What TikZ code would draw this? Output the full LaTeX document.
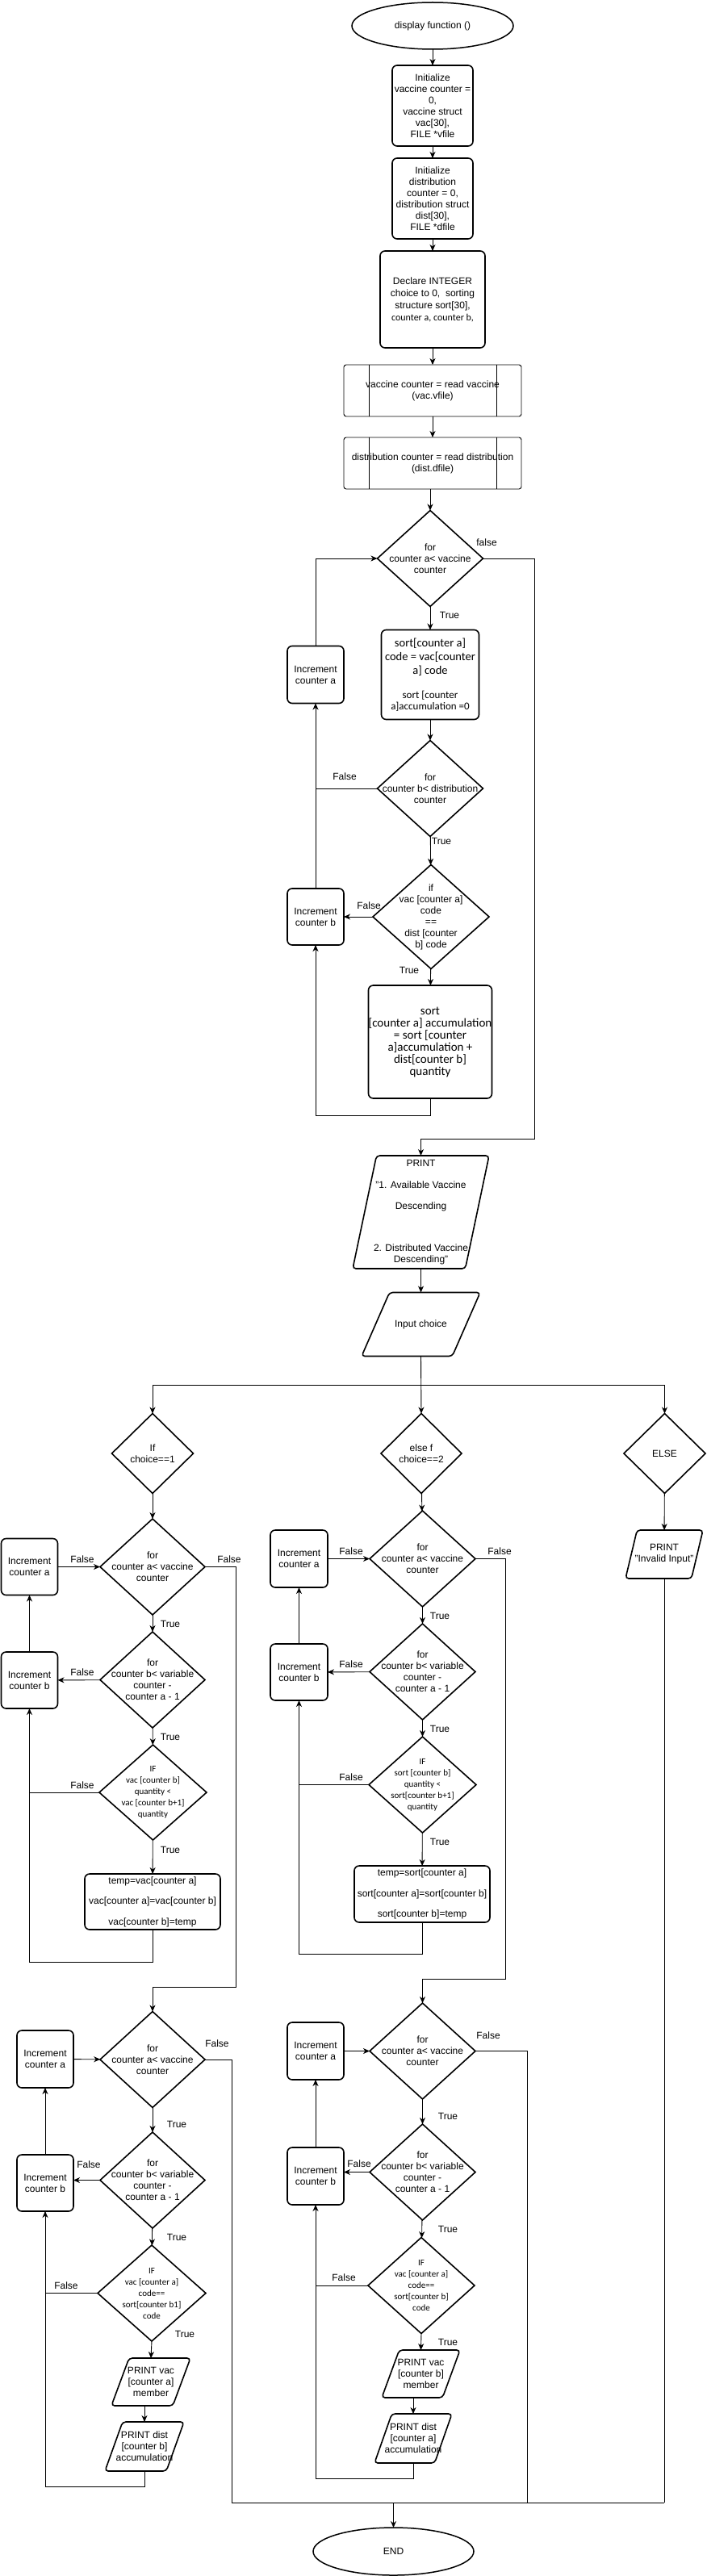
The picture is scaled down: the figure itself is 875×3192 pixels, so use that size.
\documentclass[tikz,border=0pt]{standalone}
\usepackage{fontspec}
\setmainfont{Liberation Sans}
\newfontfamily\calfont{Carlito}
\usepackage{tikz}
\usetikzlibrary{positioning,calc,shapes.geometric,arrows.meta}

\newcommand{\celltxt}[1]{\smash{\makebox[0pt]{\raisebox{-3pt}{\parbox{300pt}{\centering #1}}}}}

\begin{document}
\begin{tikzpicture}[x=1pt, y=-1pt,
 every node/.style={inner sep=0pt, outer sep=0pt, font=\fontsize{12}{14}\selectfont},
 wh/.style 2 args={minimum width=#1pt, minimum height=#2pt},
 term/.style={draw, ellipse, line width=1.5pt},
 box/.style={draw, rounded corners=6pt, line width=1.6pt},
 proc/.style={draw, rounded corners=3pt, line width=0.9pt},
 dec/.style={draw, diamond, aspect=1, line width=1.6pt},
 io/.style 2 args={draw, trapezium, inner sep=2pt, trapezium stretches=true, trapezium left angle=#1, trapezium right angle=#2, rounded corners=4pt, line width=1.6pt},
 cal/.style={font=\calfont\fontsize{11}{14}\selectfont},
 line/.style={line width=0.9pt},
 arr/.style={line width=0.9pt, -{Stealth[length=8pt,width=7pt,inset=2.5pt]}}
]
\useasboundingbox (0,0) rectangle (875,3192);

% main column
\node[term, wh={200}{58}] (start) at (536,32) {\celltxt{display function ()}};
\node[box, wh={100}{100}] (iniv) at (536,131) {\celltxt{Initialize\\ vaccine counter =\\ 0,\\ vaccine struct\\ vac[30],\\ FILE *vfile}};
\node[box, wh={100}{100}] (inid) at (536,246) {\celltxt{Initialize\\ distribution\\ counter = 0,\\ distribution struct\\ dist[30],\\ FILE *dfile}};
\node[box, wh={130}{120}] (decl) at (536,371) {\celltxt{\fontsize{12}{15}\selectfont Declare INTEGER\\ choice to 0,\ \ sorting\\ structure sort[30],\\ {\calfont counter a, counter b,}}};
\node[proc, wh={220}{64}] (readv) at (536,484) {\celltxt{vaccine counter = read vaccine\\ (vac.vfile)}};
\node[proc, wh={220}{64}] (readd) at (536,574) {\celltxt{distribution counter = read distribution\\ (dist.dfile)}};
\draw[line] ([xshift=31pt]readv.north west) -- ([xshift=31pt]readv.south west);
\draw[line] ([xshift=-31pt]readv.north east) -- ([xshift=-31pt]readv.south east);
\draw[line] ([xshift=31pt]readd.north west) -- ([xshift=31pt]readd.south west);
\draw[line] ([xshift=-31pt]readd.north east) -- ([xshift=-31pt]readd.south east);

\node[dec, wh={131}{119}] (fora) at (533,692) {\celltxt{for\\ counter a< vaccine\\ counter}};
\node[box, wh={121}{111}] (sorta) at (533,836) {\celltxt{\calfont\fontsize{14.5}{16.7}\selectfont sort[counter a]\\ code = vac[counter\\ a] code\endgraf\vspace{16pt}\fontsize{13}{14}\selectfont sort [counter\\ a]accumulation =0}};
\node[box, wh={70}{71}] (inca) at (391,836) {\celltxt{Increment\\ counter a}};
\node[dec, wh={131}{119}] (forb) at (533,977) {\celltxt{for\\ counter b< distribution\\ counter}};
\node[dec, wh={144}{129}] (ifc) at (534,1136) {\celltxt{if\\ vac [counter a]\\ code\\ ==\\ dist [counter\\ b] code}};
\node[box, wh={70}{70}] (incb) at (391,1136) {\celltxt{Increment\\ counter b}};
\node[box, wh={153}{140}] (accu) at (533,1291) {\celltxt{\calfont\fontsize{15}{15}\selectfont sort\\ {[counter a] accumulation}\\ = sort [counter\\ a]accumulation +\\ dist[counter b]\\ quantity}};

\node[io={75}{105}, wh={169}{140}] (prt) at (521.5,1502) {\celltxt{PRINT\\[13pt] "1. Available Vaccine\\[12pt] Descending\\[38pt] 2. Distributed Vaccine\\ Descending"}};
\node[io={66}{114}, wh={147}{79}] (inp) at (521.5,1641) {\celltxt{Input choice}};

\node[dec, wh={101}{99}] (c1) at (189,1801) {\celltxt{If\\ choice==1}};
\node[dec, wh={100}{99}] (c2) at (522,1801) {\celltxt{else f\\ choice==2}};
\node[dec, wh={101}{99}] (c3) at (823.5,1801) {\celltxt{ELSE}};
\node[io={78}{102}, wh={96}{60}] (inv) at (823,1926) {\celltxt{PRINT\\ "Invalid Input"}};

% choice 1, sorting
\node[dec, wh={130}{119}] (la1) at (189,1941.5) {\celltxt{for\\ counter a< vaccine\\ counter}};
\node[box, wh={70}{70}] (lia1) at (36.5,1941.5) {\celltxt{Increment\\ counter a}};
\node[dec, wh={130}{119}] (lb1) at (189,2081.5) {\celltxt{for\\ counter b< variable\\ counter -\\ counter a - 1}};
\node[box, wh={70}{70}] (lib1) at (36.5,2082) {\celltxt{Increment\\ counter b}};
\node[dec, cal, wh={133}{118}] (lif1) at (189.5,2221) {\celltxt{IF\\ vac [counter b]\\ quantity <\\ vac [counter b+1]\\ quantity}};
\node[box, wh={168}{69}] (lsw1) at (189,2356.5) {\celltxt{\fontsize{12}{13}\selectfont temp=vac[counter a]\\[12.5pt] vac[counter a]=vac[counter b]\\[12.5pt] vac[counter b]=temp}};

% choice 1, printing
\node[dec, wh={130}{119}] (la2) at (189,2552) {\celltxt{for\\ counter a< vaccine\\ counter}};
\node[box, wh={70}{71}] (lia2) at (56,2551.5) {\celltxt{Increment\\ counter a}};
\node[dec, wh={130}{119}] (lb2) at (189,2701.5) {\celltxt{for\\ counter b< variable\\ counter -\\ counter a - 1}};
\node[box, wh={70}{70}] (lib2) at (56,2705) {\celltxt{Increment\\ counter b}};
\node[dec, cal, wh={134}{119}] (lif2) at (188,2841.5) {\celltxt{IF\\ vac [counter a]\\ code==\\ sort[counter b1]\\ code}};
\node[io={68}{112}, wh={98}{59}] (lpv) at (187,2951.5) {\celltxt{PRINT vac\\ {[counter a]}\\ member}};
\node[io={68}{112}, wh={98}{61}] (lpd) at (179,3031.5) {\celltxt{PRINT dist\\ {[counter b]}\\ accumulation}};

% choice 2, sorting
\node[dec, wh={131}{119}] (ma1) at (523.5,1931.5) {\celltxt{for\\ counter a< vaccine\\ counter}};
\node[box, wh={71}{71}] (mia1) at (370.5,1931.5) {\celltxt{Increment\\ counter a}};
\node[dec, wh={131}{119}] (mb1) at (523.5,2071.5) {\celltxt{for\\ counter b< variable\\ counter -\\ counter a - 1}};
\node[box, wh={71}{70}] (mib1) at (370.5,2072) {\celltxt{Increment\\ counter b}};
\node[dec, cal, wh={133}{119}] (mif1) at (523.5,2211.5) {\celltxt{IF\\ sort [counter b]\\ quantity <\\ sort[counter b+1]\\ quantity}};
\node[box, wh={168}{70}] (msw1) at (523,2347) {\celltxt{\fontsize{12}{13}\selectfont temp=sort[counter a]\\[12.5pt] sort[counter a]=sort[counter b]\\[12.5pt] sort[counter b]=temp}};

% choice 2, printing
\node[dec, wh={131}{119}] (ma2) at (523.5,2541.5) {\celltxt{for\\ counter a< vaccine\\ counter}};
\node[box, wh={70}{71}] (mia2) at (391,2541.5) {\celltxt{Increment\\ counter a}};
\node[dec, wh={131}{119}] (mb2) at (523.5,2691.5) {\celltxt{for\\ counter b< variable\\ counter -\\ counter a - 1}};
\node[box, wh={70}{71}] (mib2) at (391,2696.5) {\celltxt{Increment\\ counter b}};
\node[dec, cal, wh={132}{119}] (mif2) at (522,2832) {\celltxt{IF\\ vac [counter a]\\ code==\\ sort[counter b]\\ code}};
\node[io={68}{112}, wh={97}{59}] (mpv) at (521.5,2941.5) {\celltxt{PRINT vac\\ {[counter b]}\\ member}};
\node[io={68}{112}, wh={96}{61}] (mpd) at (512,3021.5) {\celltxt{PRINT dist\\ {[counter a]}\\ accumulation}};

\node[term, wh={199}{59}] (end) at (487.5,3161.5) {\celltxt{END}};

% corner points
\coordinate (topf) at (662,1411);
\coordinate (bus) at (522,1716);
\coordinate (l1f) at (292,2462);
\coordinate (m1f) at (626,2452);
\coordinate (botl) at (287,3101);
\coordinate (botm) at (653,3101);
\coordinate (botr) at (823,3101);
\coordinate (bote) at (487.5,3101);

% connectors, main column
\draw[arr] (start) -- (iniv);
\draw[arr] (iniv) -- (inid);
\draw[arr] (inid) -- (decl);
\draw[arr] (decl) -- (readv);
\draw[arr] (readv) -- (readd);
\draw[arr] (fora.north |- readd.south) -- (fora.north);
\draw[arr] (fora) -- (sorta);
\draw[arr] (sorta) -- (forb);
\draw[arr] (forb) -- (ifc);
\draw[arr] (ifc) -- (accu);
\draw[arr] (ifc) -- (incb);
\draw[arr] (accu.south) -- ++(0,21) -| (incb.south);
\draw[arr] (incb) -- (inca);
\draw[line] (forb.west) -- (forb.west -| inca.south);
\draw[arr] (inca.north) |- (fora.west);
\draw[arr] (fora.east) -| (topf) -| (prt.north);
\draw[arr] (prt) -- (inp);
\draw[arr] (inp.south) -- (c2.north);
\draw[arr] (bus) -| (c1.north);
\draw[arr] (bus) -| (c3.north);
\draw[arr] (c3) -- (inv);

% connectors, choice 1
\draw[arr] (c1) -- (la1);
\draw[arr] (lia1) -- (la1);
\draw[arr] (la1) -- (lb1);
\draw[arr] (lb1) -- (lib1);
\draw[arr] (lib1) -- (lia1);
\draw[arr] (lb1) -- (lif1);
\draw[line] (lif1.west) -- (lif1.west -| lib1.south);
\draw[arr] (lif1) -- (lsw1);
\draw[arr] (lsw1.south) -- ++(0,40) -| (lib1.south);
\draw[arr] (la1.east) -| (l1f) -| (la2.north);
\draw[arr] (lia2) -- (la2);
\draw[arr] (la2) -- (lb2);
\draw[arr] (lb2.west) -- (lb2.west -| lib2.east);
\draw[arr] (lib2) -- (lia2);
\draw[arr] (lb2) -- (lif2);
\draw[line] (lif2.west) -- (lif2.west -| lib2.south);
\draw[arr] (lif2.south) -- (lpv.north);
\draw[arr] (lpd.north |- lpv.south) -- (lpd.north);
\draw[arr] (lpd.south) -- ++(0,19) -| (lib2.south);
\draw[line] (la2.east) -| (botl) -- (botr);

% connectors, choice 2
\draw[arr] (c2) -- (ma1);
\draw[arr] (mia1) -- (ma1);
\draw[arr] (ma1) -- (mb1);
\draw[arr] (mb1) -- (mib1);
\draw[arr] (mib1) -- (mia1);
\draw[arr] (mb1) -- (mif1);
\draw[line] (mif1.west) -- (mif1.west -| mib1.south);
\draw[arr] (mif1) -- (msw1);
\draw[arr] (msw1.south) -- ++(0,39) -| (mib1.south);
\draw[arr] (ma1.east) -| (m1f) -| (ma2.north);
\draw[arr] (mia2) -- (ma2);
\draw[arr] (ma2) -- (mb2);
\draw[arr] (mb2.west) -- (mb2.west -| mib2.east);
\draw[arr] (mib2) -- (mia2);
\draw[arr] (mb2) -- (mif2);
\draw[line] (mif2.west) -- (mif2.west -| mib2.south);
\draw[arr] (mif2.south) -- (mpv.north);
\draw[arr] (mpd.north |- mpv.south) -- (mpd.north);
\draw[arr] (mpd.south) -- ++(0,19) -| (mib2.south);
\draw[line] (ma2.east) -| (botm);
\draw[line] (inv.south) -- (botr);
\draw[arr] (bote) -- (end.north);

% labels
\node (f0) at (603,672) {false};
\node (t0) at (557,762) {True};
\node (f1) at (427,962) {False};
\node (t1) at (547,1042) {True};
\node (f2) at (457,1122) {False};
\node (t2) at (507,1202) {True};

\node (lf1) at (102,1932) {False};
\node (lf2) at (284,1932) {False};
\node (lt1) at (211,2012) {True};
\node (lf3) at (102,2072) {False};
\node (lt2) at (211,2152) {True};
\node (lf4) at (102,2212) {False};
\node (lt3) at (211,2292) {True};
\node (lf5) at (269,2532) {False};
\node (lt4) at (219,2632) {True};
\node (lf6) at (110,2682) {False};
\node (lt5) at (219,2772) {True};
\node (lf7) at (82,2832) {False};
\node (lt6) at (229,2892) {True};

\node (mf1) at (435,1922) {False};
\node (mf2) at (619,1922) {False};
\node (mt1) at (545,2002) {True};
\node (mf3) at (435,2062) {False};
\node (mt2) at (545,2142) {True};
\node (mf4) at (435,2202) {False};
\node (mt3) at (545,2282) {True};
\node (mf5) at (605,2522) {False};
\node (mt4) at (555,2622) {True};
\node (mf6) at (445,2681) {False};
\node (mt5) at (555,2762) {True};
\node (mf7) at (426,2822) {False};
\node (mt6) at (555,2902) {True};

\end{tikzpicture}
\end{document}
